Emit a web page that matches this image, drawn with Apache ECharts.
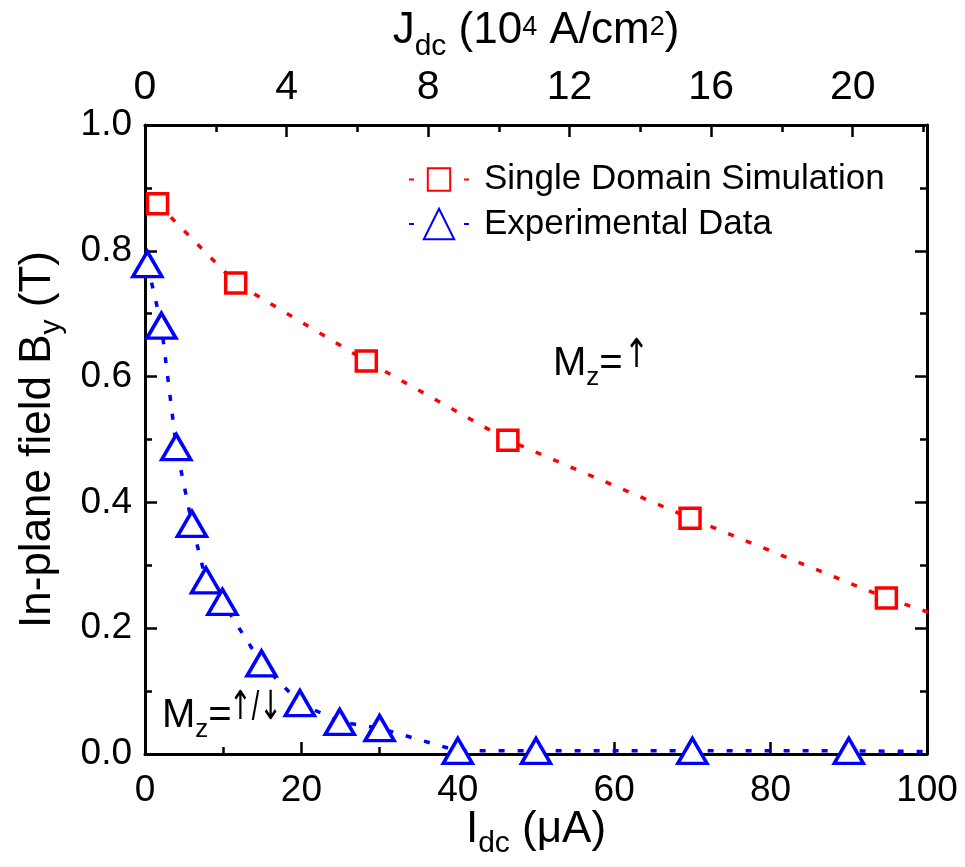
<!DOCTYPE html>
<html><head><meta charset="utf-8">
<script src="https://cdn.jsdelivr.net/npm/echarts@6/dist/echarts.min.js"></script>
<style>html,body{margin:0;padding:0;background:#fff}#c{width:965px;height:867px}</style>
</head><body><div id="c"></div>
<script>
// ---- data ----
const simI = [1.6, 11.6, 28.3, 46.4, 69.7, 94.8, 124];
const simB = [0.875, 0.749, 0.625, 0.499, 0.375, 0.248, 0.125];
const expI = [0.3, 2.1, 4.0, 6.0, 7.8, 9.9, 14.9, 19.8, 24.9, 30.0, 40, 50, 70, 90, 110];
const expB = [0.779, 0.681, 0.488, 0.366, 0.276, 0.242, 0.144, 0.081, 0.051, 0.041, 0.005, 0.005, 0.005, 0.005, 0.003];
const seriesNames = ['Single Domain Simulation', 'Experimental Data'];
const iAxisRange = [0, 100, 20];     // min, max, step (µA)
const jAxisRange = [0, 22.1, 4];     // min, max, step (10^4 A/cm^2)
const bAxisRange = [0, 1.0, 0.2];    // min, max, step (T)

const FONT = '"Liberation Sans", Arial, sans-serif';
const ARROWFONT = '"DejaVu Sans", sans-serif';
// tokens are middle-aligned; asymmetric padding shifts sub/superscripts
function richFor(size, lh, subSize, subPad, supSize, supPad) {
  return {
    m: {fontSize: size, fontFamily: FONT, color: '#000', lineHeight: lh},
    s: {fontSize: subSize, fontFamily: FONT, color: '#000', lineHeight: subSize, padding: [subPad, 0, 0, 0]},
    p: {fontSize: supSize, fontFamily: FONT, color: '#000', lineHeight: supSize, padding: [0, 0, supPad, 0]},
    a: {fontSize: size, fontFamily: ARROWFONT, color: '#000', lineHeight: lh}
  };
}
const zip = (a, b) => a.map((v, i) => [v, b[i]]);

const axisLineStyle = {onZero: false, lineStyle: {color: '#000', width: 3}};
const tickStyle = {inside: true, length: 12, lineStyle: {color: '#000', width: 2.5}};
const minorStyle = {show: true, splitNumber: 2, length: 7, lineStyle: {color: '#000', width: 2.5}};

const chart = echarts.init(document.getElementById('c'), null, {renderer: 'canvas'});
chart.setOption({
  animation: false,
  backgroundColor: '#fff',
  grid: {left: 145, right: 38, top: 125, bottom: 113, containLabel: false, outerBoundsMode: 'none'},
  xAxis: [{
    type: 'value', position: 'bottom', min: iAxisRange[0], max: iAxisRange[1], interval: iAxisRange[2],
    axisLine: axisLineStyle, axisTick: tickStyle, minorTick: minorStyle, splitLine: {show: false},
    axisLabel: {fontSize: 37, fontFamily: FONT, color: '#000', margin: 18},
    name: '{m|I}{s|dc}{m| (\u03bcA)}', nameLocation: 'middle', nameGap: 51, nameMoveOverlap: false,
    nameTextStyle: {rich: richFor(44, 50, 30, 27, 26, 4)}
  }, {
    type: 'value', position: 'top', min: jAxisRange[0], max: jAxisRange[1], interval: jAxisRange[2],
    axisLine: axisLineStyle, axisTick: tickStyle, minorTick: minorStyle, splitLine: {show: false},
    axisLabel: {fontSize: 41, fontFamily: FONT, color: '#000', margin: 17, showMaxLabel: false},
    name: '{m|J}{s|dc}{m| (10}{p|4}{m| A/cm}{p|2}{m|)}', nameLocation: 'middle', nameGap: 40,
    nameTextStyle: {rich: richFor(44, 50, 30, 32, 27, 8)}
  }],
  yAxis: [{
    type: 'value', position: 'left', min: bAxisRange[0], max: bAxisRange[1], interval: bAxisRange[2],
    axisLine: axisLineStyle, axisTick: tickStyle, minorTick: minorStyle, splitLine: {show: false},
    axisLabel: {fontSize: 37, fontFamily: FONT, color: '#000', margin: 13, padding: [0, 0, 6, 0], formatter: v => v.toFixed(1)},
    name: '{m|In-plane field B}{s|y}{m| (T)}', nameLocation: 'middle', nameGap: 82,
    nameTextStyle: {rich: richFor(44, 50, 30, 27, 26, 4)}
  }, {
    type: 'value', position: 'right', min: bAxisRange[0], max: bAxisRange[1], interval: bAxisRange[2],
    axisLine: axisLineStyle, axisTick: tickStyle, minorTick: minorStyle, splitLine: {show: false},
    axisLabel: {show: false}
  }],
  legend: [{
    data: [seriesNames[0]], orient: 'vertical', left: 408, top: 162, padding: 0,
    itemWidth: 60, itemHeight: 28,
    lineStyle: {type: [5, 50]},
    textStyle: {fontSize: 35, fontFamily: FONT, color: '#000', lineHeight: 34, padding: [0, 0, 0, 10]}
  }, {
    data: [seriesNames[1]], orient: 'vertical', left: 408, top: 205, padding: 0,
    itemWidth: 60, itemHeight: 38,
    lineStyle: {type: [5, 50]},
    textStyle: {fontSize: 35, fontFamily: FONT, color: '#000', lineHeight: 38, padding: [0, 0, 0, 10]}
  }],
  series: [{
    name: seriesNames[0], type: 'line', xAxisIndex: 0, yAxisIndex: 0, clip: true,
    data: zip(simI, simB), color: '#ff0000',
    symbol: 'rect', symbolSize: 20,
    itemStyle: {color: '#ffffff', borderColor: '#ff0000', borderWidth: 3.5},
    lineStyle: {color: '#ff0000', width: 3.5, type: [6, 13]},
    z: 3
  }, {
    name: seriesNames[1], type: 'line', xAxisIndex: 0, yAxisIndex: 0, clip: true,
    data: zip(expI, expB), color: '#0000ff',
    symbol: 'triangle', symbolSize: [29, 25],
    itemStyle: {color: '#ffffff', borderColor: '#0000ff', borderWidth: 3.5},
    lineStyle: {color: '#0000ff', width: 3.5, type: [6, 13]},
    z: 3
  }],
  graphic: [{
    type: 'text', left: 553, top: 337, z: 10,
    style: {text: '{m|M}{s|z}{m|=}', rich: richFor(40, 46, 26, 28, 24, 10)}
  }, {
    type: 'text', left: 624, top: 337, z: 10, scaleX: 0.75,
    style: {text: '{a|\u2191}', rich: richFor(40, 46, 26, 28, 24, 10)}
  }, {
    type: 'text', left: 162, top: 689, z: 10,
    style: {text: '{m|M}{s|z}{m|=}', rich: richFor(40, 46, 26, 28, 24, 10)}
  }, {
    type: 'text', left: 229, top: 689, z: 10, scaleX: 0.68,
    style: {text: '{a|\u2191}{m|/}{a|\u2193}', rich: richFor(40, 46, 26, 28, 24, 10)}
  }]
});
</script>
</body></html>
